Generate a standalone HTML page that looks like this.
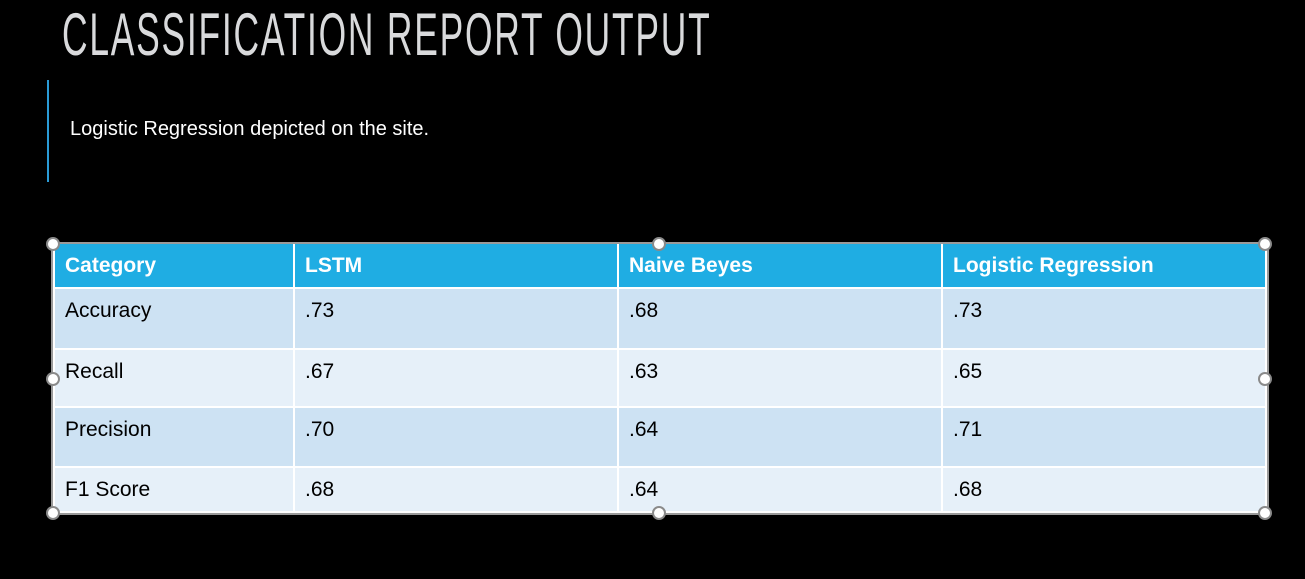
<!DOCTYPE html>
<html><head><meta charset="utf-8"><style>
body{margin:0;width:1305px;height:579px;background:#000;overflow:hidden;position:relative;font-family:"Liberation Sans",sans-serif}
.title{position:absolute;left:62px;top:5px;font-size:60px;color:#d9dadc;letter-spacing:3px;white-space:nowrap;transform:scaleX(0.59);transform-origin:0 0;line-height:60px}
.bar{position:absolute;left:47px;top:80px;width:2px;height:102px;background:#2a9bd6}
.sub{position:absolute;left:70px;top:118px;font-size:20px;color:#fff}
table{position:absolute;left:53px;top:244px;width:1212px;border-collapse:collapse;table-layout:fixed;font-size:21px;outline:2px solid #9a9a9a}
td,th{padding:0 0 0 10px;text-align:left;vertical-align:top;border:2px solid #fff;color:#000;font-weight:normal}
th{background:#1fade3;color:#fff;font-weight:bold;height:43px;vertical-align:middle;border-top:none}
tr.a td{background:#cde2f3}tr.b td{background:#e6f0f9}
td{padding-top:10px}
.h{position:absolute;width:10px;height:10px;border:2px solid #8a8a8a;border-radius:50%;background:#fff}
</style></head><body>
<div class="title">CLASSIFICATION REPORT OUTPUT</div>
<div class="bar"></div>
<div class="sub">Logistic Regression depicted on the site.</div>
<table>
<colgroup><col style="width:240px"><col style="width:324px"><col style="width:324px"><col style="width:324px"></colgroup>
<tr><th>Category</th><th>LSTM</th><th>Naive Beyes</th><th>Logistic Regression</th></tr>
<tr class="a" style="height:61px"><td>Accuracy</td><td>.73</td><td>.68</td><td>.73</td></tr>
<tr class="b" style="height:58px"><td>Recall</td><td>.67</td><td>.63</td><td>.65</td></tr>
<tr class="a" style="height:60px"><td>Precision</td><td>.70</td><td>.64</td><td>.71</td></tr>
<tr class="b" style="height:45px"><td>F1 Score</td><td>.68</td><td>.64</td><td>.68</td></tr>
</table>
<div class="h" style="left:46px;top:237px"></div>
<div class="h" style="left:652px;top:237px"></div>
<div class="h" style="left:1258px;top:237px"></div>
<div class="h" style="left:46px;top:372px"></div>
<div class="h" style="left:1258px;top:372px"></div>
<div class="h" style="left:46px;top:506px"></div>
<div class="h" style="left:652px;top:506px"></div>
<div class="h" style="left:1258px;top:506px"></div>
</body></html>
